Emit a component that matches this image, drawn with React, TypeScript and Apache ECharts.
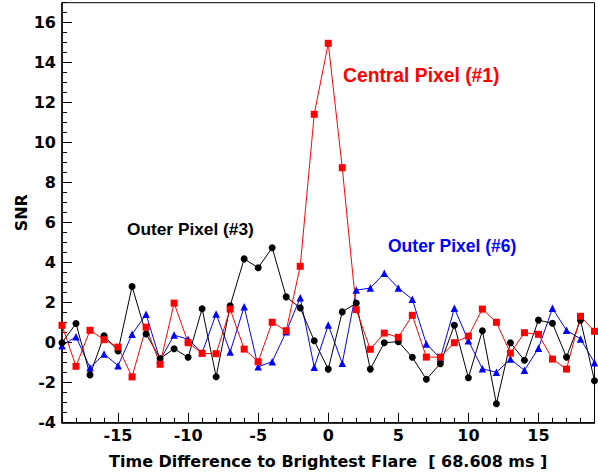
import React, { useEffect, useRef } from "react";
import * as echarts from "echarts";

const times = [-19, -18, -17, -16, -15, -14, -13, -12, -11, -10, -9, -8, -7, -6, -5, -4, -3, -2, -1, 0, 1, 2, 3, 4, 5, 6, 7, 8, 9, 10, 11, 12, 13, 14, 15, 16, 17, 18, 19];

const centralPixel = [0.87, -1.18, 0.62, 0.15, -0.22, -1.71, 0.78, -1.08, 1.98, 0.0, -0.53, -0.55, 1.68, -0.32, -0.95, 1.02, 0.6, 3.82, 11.42, 14.97, 8.75, 1.65, -0.33, 0.48, 0.27, 1.37, -0.72, -0.72, 0.0, 0.33, 1.68, 1.02, -0.52, 0.5, 0.42, -0.82, -1.32, 1.32, 0.57];

const outerPixel3 = [0.0, 0.96, -1.61, 0.35, -0.41, 2.81, 0.44, -0.79, -0.3, -0.73, 1.7, -1.7, 1.85, 4.19, 3.75, 4.75, 2.29, 1.74, 0.1, -1.32, 1.54, 1.98, -1.32, 0.0, 0.05, -0.73, -1.83, -1.05, 0.87, -1.75, 0.6, -3.05, 0.0, -0.88, 1.13, 0.97, -0.72, 1.13, -1.9];

const outerPixel6 = [-0.15, 0.3, -1.25, -0.57, -1.15, 0.42, 1.42, -0.87, 0.38, 0.17, -0.5, 1.44, -0.46, 1.8, -1.2, -0.95, 0.55, 2.25, -1.23, 0.88, -1.03, 2.63, 2.73, 3.47, 2.73, 2.17, -0.06, -0.78, 1.72, 0.1, -1.3, -1.48, -0.82, -1.38, -0.28, 1.72, 0.62, 0.19, -1.0];

const xTickValues = [-15, -10, -5, 0, 5, 10, 15];
const yTickValues = [-4, -2, 0, 2, 4, 6, 8, 10, 12, 14, 16];

const AXIS_FONT = "'DejaVu Sans', Verdana, sans-serif";
const NOTE_FONT = "'Liberation Sans', Arial, Helvetica, sans-serif";

export default function App() {
  const ref = useRef<HTMLDivElement>(null);

  useEffect(() => {
    if (!ref.current) return;
    const chart = echarts.init(ref.current, null, { renderer: "svg" });
    const pair = (arr: number[]) => times.map((t, i) => [t, arr[i]]);
    const labelStyle = { fontFamily: AXIS_FONT, fontWeight: "bold" as const, fontSize: 16, color: "#000" };

    chart.setOption({
      animation: false,
      backgroundColor: "#ffffff",
      grid: {
        left: 62,
        right: 3.5,
        top: 2.7,
        bottom: 53.3,
        show: true,
        borderColor: "#000",
        borderWidth: 1,
        backgroundColor: "transparent",
      },
      xAxis: [
        {
          type: "value",
          min: -19,
          max: 19,
          position: "bottom",
          axisLine: { show: true, onZero: false, lineStyle: { color: "#000", width: 1.5 } },
          axisTick: { show: true, inside: true, length: 10, customValues: xTickValues, lineStyle: { color: "#000", width: 1 } },
          axisLabel: { ...labelStyle, customValues: xTickValues, margin: 5 },
          splitLine: { show: false },
          name: "Time Difference to Brightest Flare  [ 68.608 ms ]",
          nameLocation: "middle",
          nameGap: 31,
          nameMoveOverlap: false,
          nameTextStyle: { ...labelStyle },
        },
        {
          type: "value",
          min: -19,
          max: 19,
          interval: 1,
          position: "bottom",
          axisLine: { show: false, onZero: false },
          axisTick: { show: true, inside: true, length: 5, lineStyle: { color: "#000", width: 1 } },
          axisLabel: { show: false },
          splitLine: { show: false },
        },
      ],
      yAxis: [
        {
          type: "value",
          min: -4,
          max: 17,
          position: "left",
          axisLine: { show: true, onZero: false, lineStyle: { color: "#000", width: 1.5 } },
          axisTick: { show: true, inside: true, length: 10, customValues: yTickValues, lineStyle: { color: "#000", width: 1 } },
          axisLabel: { ...labelStyle, customValues: yTickValues, margin: 6 },
          splitLine: { show: false },
          name: "SNR",
          nameLocation: "middle",
          nameGap: 33,
          nameMoveOverlap: false,
          nameTextStyle: { ...labelStyle },
        },
        {
          type: "value",
          min: -4,
          max: 17,
          interval: 0.5,
          position: "left",
          axisLine: { show: false, onZero: false },
          axisTick: { show: true, inside: true, length: 5, lineStyle: { color: "#000", width: 1 } },
          axisLabel: { show: false },
          splitLine: { show: false },
        },
      ],
      series: [
        {
          name: "Outer Pixel (#6)",
          type: "line",
          data: pair(outerPixel6),
          symbol: "triangle",
          symbolSize: 7.5,
          showAllSymbol: true,
          lineStyle: { color: "#0000ff", width: 1 },
          itemStyle: { color: "#0000ff" },
          xAxisIndex: 0,
          yAxisIndex: 0,
        },
        {
          name: "Outer Pixel (#3)",
          type: "line",
          data: pair(outerPixel3),
          symbol: "circle",
          symbolSize: 7,
          showAllSymbol: true,
          lineStyle: { color: "#000000", width: 1 },
          itemStyle: { color: "#000000" },
          xAxisIndex: 0,
          yAxisIndex: 0,
        },
        {
          name: "Central Pixel (#1)",
          type: "line",
          data: pair(centralPixel),
          symbol: "rect",
          symbolSize: 7,
          showAllSymbol: true,
          lineStyle: { color: "#ff0000", width: 1 },
          itemStyle: { color: "#ff0000" },
          xAxisIndex: 0,
          yAxisIndex: 0,
        },
      ],
      graphic: [
        {
          type: "text",
          x: 343,
          y: 75,
          style: { text: "Central Pixel (#1)", fill: "#ff0000", fontFamily: NOTE_FONT, fontWeight: "bold", fontSize: 19.3, verticalAlign: "middle" },
        },
        {
          type: "text",
          x: 127,
          y: 229,
          style: { text: "Outer Pixel (#3)", fill: "#000000", fontFamily: NOTE_FONT, fontWeight: "bold", fontSize: 17.3, verticalAlign: "middle" },
        },
        {
          type: "text",
          x: 388,
          y: 246,
          style: { text: "Outer Pixel (#6)", fill: "#0000ff", fontFamily: NOTE_FONT, fontWeight: "bold", fontSize: 17.5, verticalAlign: "middle" },
        },
      ],
    });

    return () => {
      chart.dispose();
    };
  }, []);

  return (
    <div
      ref={ref}
      style={{ position: "fixed", left: 0, top: 0, width: 598, height: 476, background: "#fff" }}
    />
  );
}
